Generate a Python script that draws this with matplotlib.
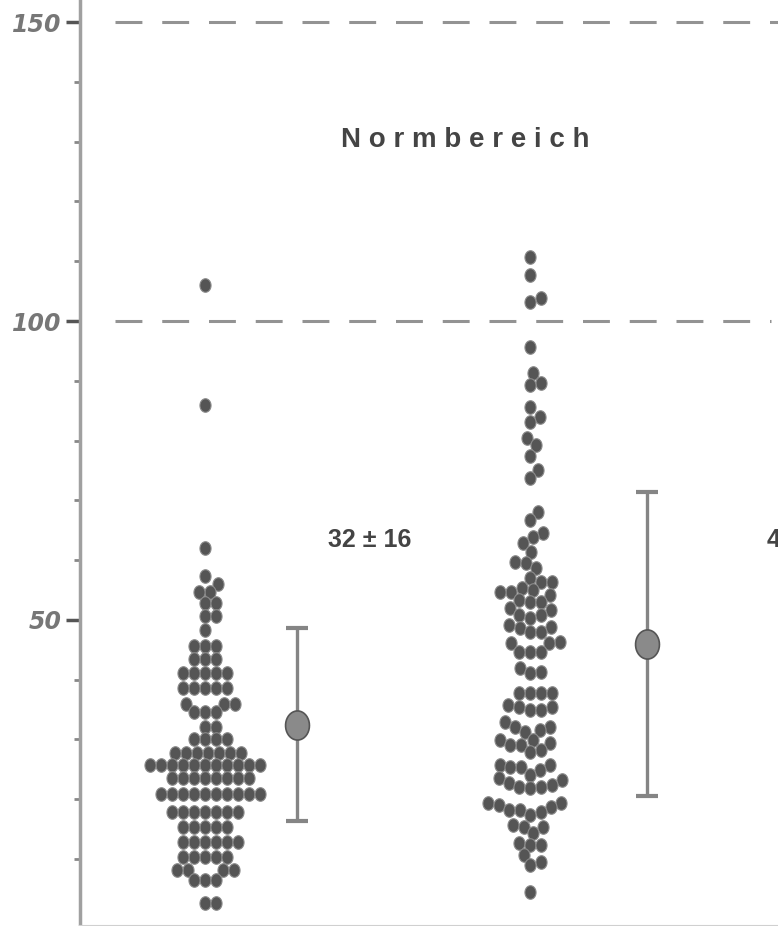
import numpy as np
import matplotlib
matplotlib.use("Agg")
import matplotlib.pyplot as plt
from matplotlib.path import Path

# values (one entry per dot)
group1_rows = [(106, 1), (86, 1), (62.0, 1), (57.4, 1), (56.0, 1), (54.7, 2), (52.8, 2),
               (50.7, 2), (48.3, 1), (45.7, 3), (43.5, 3), (41.1, 5), (38.6, 5), (36.0, 3),
               (34.6, 3), (32.1, 2), (30.0, 4), (27.8, 7), (25.8, 11), (23.6, 8), (20.8, 10),
               (17.9, 7), (15.4, 5), (12.9, 6), (10.4, 5), (8.2, 4), (6.5, 3), (2.7, 2)]
group1 = [v for v, n in group1_rows for _ in range(n)]

group2 = [110.7, 107.7, 103.8, 103.2, 95.7, 91.3, 89.6, 89.3, 85.6, 83.9, 83.1, 80.4,
          79.2, 77.5, 75.1, 73.7, 68.1, 66.7, 64.5, 63.9, 62.9, 61.4, 59.7, 59.5, 58.7,
          57.0, 56.4, 56.4, 55.4, 55.0, 54.7, 54.7, 54.2, 53.3, 53.0, 53.0, 52.0, 51.7,
          50.8, 50.8, 50.3, 49.2, 48.8, 48.7, 48.0, 48.0, 46.3, 46.2, 46.2, 44.7, 44.7,
          44.7, 42.0, 41.3, 41.1, 37.8, 37.8, 37.8, 37.8, 35.8, 35.5, 35.5, 35.0, 35.0,
          32.9, 32.1, 32.1, 31.6, 31.3, 29.9, 29.9, 29.4, 29.1, 29.1, 28.3, 27.9, 25.8,
          25.8, 25.4, 25.4, 24.9, 24.1, 23.6, 23.2, 22.7, 22.4, 22.1, 22.1, 21.9, 19.4,
          19.4, 19.1, 18.7, 18.2, 18.2, 17.9, 17.4, 15.7, 15.4, 15.4, 14.4, 12.7, 12.4,
          12.4, 10.7, 9.5, 9.0, 4.5]

means = [32.5, 46.0]
sds = [16.2, 25.4]
labels = ["32 \u00b1 16", "46 \u00b1 25"]
ref_lines = [150, 100]

fig = plt.figure(figsize=(7.78, 9.26), dpi=100)
ax = fig.add_axes([80 / 778, 0, 698 / 778, 1])
ax.set_xlim(0.615, 2.763)
ax.set_ylim(-1.2, 153.7)

# ellipse marker, a bit taller than wide
t = np.linspace(0, 2 * np.pi, 40)
ell = Path(np.column_stack([0.82 * np.cos(t), np.sin(t)]), closed=True)


def swarm(vals, x0, w=11.0, h=12.5):
    pts = ax.transData.transform(np.column_stack([np.full(len(vals), x0), vals]))
    ys = pts[:, 1]
    xs = np.zeros(len(vals))
    placed = []
    for i in np.argsort(ys, kind="stable"):
        y = ys[i]
        near = [(px, py) for px, py in placed if abs(py - y) < h]
        cands = [0.0]
        for px, py in near:
            dx = w * np.sqrt(1 - ((py - y) / h) ** 2)
            cands += [px + dx, px - dx]
        cands.sort(key=abs)
        for c in cands:
            if all(((c - px) / w) ** 2 + ((y - py) / h) ** 2 >= 0.999 for px, py in near):
                break
        xs[i] = c
        placed.append((c, y))
    x_unit = ax.transData.transform([(1, 0)])[0, 0] - ax.transData.transform([(0, 0)])[0, 0]
    return x0 + xs / x_unit


for x0, vals in [(1, group1), (2, group2)]:
    ax.scatter(swarm(vals, x0), vals, s=95, marker=ell, facecolor="#555555",
               edgecolor="#8a8a8a", linewidth=0.8, zorder=3)

# mean +- sd
for xe, m, sd in zip([1.283, 2.36], means, sds):
    ax.errorbar([xe], [m], yerr=[sd], fmt="none", ecolor="#858585", elinewidth=2.4,
                capsize=8, capthick=3, zorder=2)
    ax.scatter([xe], [m], s=440, marker=ell, facecolor="#8a8a8a", edgecolor="#555555",
               linewidth=1.2, zorder=4)

# reference lines
ax.plot([0.723, 2.763], [ref_lines[0]] * 2, color="#939393", lw=2.2, dashes=(8.8, 6.5),
        zorder=1)
ax.plot([0.723, 2.74], [ref_lines[1]] * 2, color="#939393", lw=2.2, dashes=(8.8, 6.5),
        zorder=1)

ax.text(1.8, 130.3, "N o r m b e r e i c h", ha="center", va="center", fontsize=20,
        fontweight="bold", color="#444444", family=["Liberation Sans", "DejaVu Sans"])
ax.text(1.508, 63.4, labels[0], ha="center", va="center", fontsize=18, fontweight="bold",
        color="#444444", family=["Liberation Sans", "DejaVu Sans"])
ax.text(2.729, 63.4, labels[1], ha="left", va="center", fontsize=18, fontweight="bold",
        color="#444444", family=["Liberation Sans", "DejaVu Sans"])

for s in ["top", "right"]:
    ax.spines[s].set_visible(False)
ax.spines["left"].set_color("#a0a0a0")
ax.spines["left"].set_linewidth(2.5)
ax.spines["bottom"].set_color("#d0d0d0")
ax.spines["bottom"].set_linewidth(1.5)
ax.set_xticks([])
ax.set_yticks([50, 100, 150])
ax.set_yticks(np.arange(10, 150, 10), minor=True)
ax.tick_params(axis="y", which="major", length=10, width=2.5, color="#555555",
               labelsize=17, labelcolor="#777777", pad=3)
ax.tick_params(axis="y", which="minor", length=4, width=2, color="#888888")
for lab in ax.get_yticklabels():
    lab.set_fontstyle("italic")
    lab.set_fontweight("bold")

fig.savefig("out.png", dpi=100)
